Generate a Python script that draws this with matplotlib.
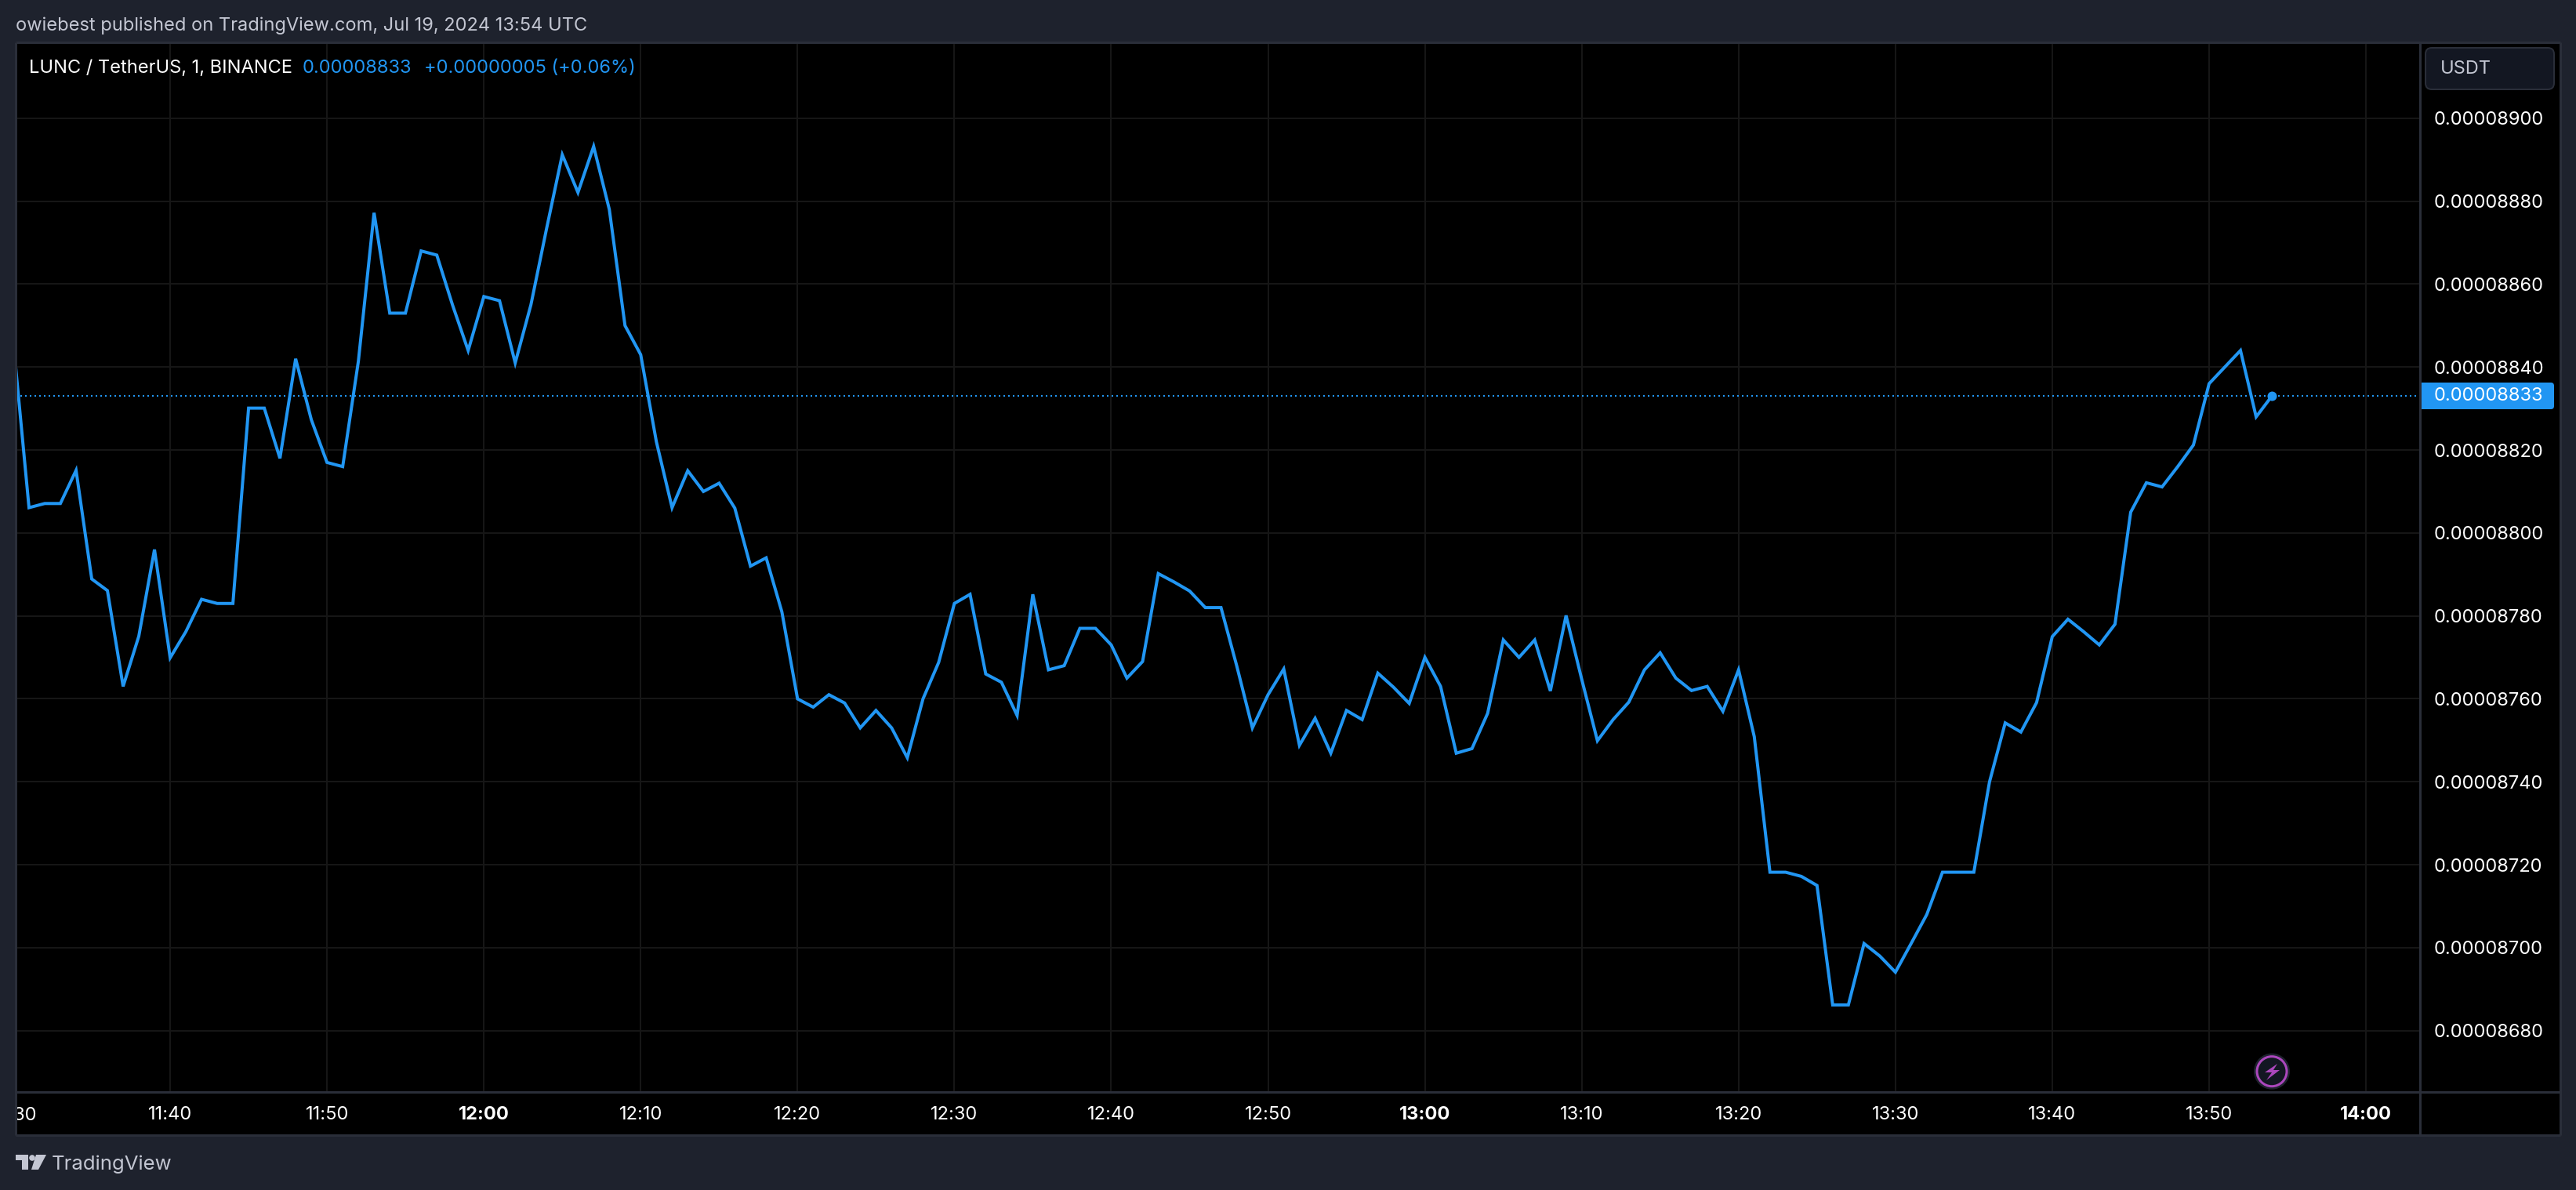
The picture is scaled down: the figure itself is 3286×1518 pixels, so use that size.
import numpy as np
import matplotlib
matplotlib.use('Agg')
import matplotlib.pyplot as plt
from matplotlib.patches import Rectangle, FancyBboxPatch, Circle, Polygon

W, H = 3286, 1518
DPI = 100
PX = 72.0 / DPI   # one pixel in points

# minutes after midnight, one close per minute from 11:30 to 13:54
minutes = np.arange(690, 835)

# closes in units of 0.00000001 USDT
closes = [
    8846.0, 8806.1, 8807.1, 8807.1, 8815.1, 8788.9, 8786.1, 8763.0, 8775.1, 8796.0,
    8769.9, 8776.2, 8784.0, 8783.0, 8783.0, 8830.1, 8830.1, 8818.0, 8842.0, 8827.3,
    8817.0, 8816.0, 8841.4, 8877.2, 8853.0, 8853.0, 8868.0, 8867.0, 8855.0, 8844.0,
    8857.0, 8856.0, 8841.0, 8855.0, 8873.4, 8891.2, 8882.1, 8893.2, 8878.0, 8850.0,
    8843.0, 8822.0, 8806.1, 8815.0, 8810.0, 8812.0, 8806.0, 8792.0, 8794.0, 8781.0,
    8760.0, 8758.0, 8761.0, 8759.0, 8753.0, 8757.2, 8753.0, 8745.8, 8760.0, 8768.8,
    8783.0, 8785.2, 8766.0, 8764.0, 8756.0, 8785.2, 8767.0, 8768.0, 8777.0, 8777.0,
    8773.0, 8765.0, 8769.0, 8790.2, 8788.2, 8786.0, 8782.0, 8782.0, 8768.0, 8753.0,
    8761.0, 8767.2, 8748.8, 8755.3, 8746.9, 8757.2, 8755.0, 8766.2, 8762.8, 8758.9,
    8770.0, 8763.0, 8746.9, 8748.0, 8756.5, 8774.2, 8770.0, 8774.2, 8761.9, 8780.1,
    8764.7, 8749.9, 8755.0, 8759.2, 8767.0, 8771.1, 8765.0, 8762.0, 8763.0, 8757.0,
    8767.0, 8750.9, 8718.2, 8718.2, 8717.2, 8715.0, 8686.2, 8686.2, 8701.0, 8698.0,
    8694.1, 8701.0, 8708.0, 8718.2, 8718.2, 8718.2, 8740.0, 8754.2, 8752.0, 8759.1,
    8775.0, 8779.2, 8776.2, 8773.0, 8778.0, 8805.0, 8812.1, 8811.1, 8816.0, 8821.2,
    8836.0, 8840.0, 8844.0, 8828.0, 8833.0,
]

price_ticks = [8680, 8700, 8720, 8740, 8760, 8780, 8800, 8820, 8840, 8860, 8880, 8900]
time_ticks = [700, 710, 720, 730, 740, 750, 760, 770, 780, 790, 800, 810, 820, 830, 840]
time_labels = ['11:40', '11:50', '12:00', '12:10', '12:20', '12:30', '12:40', '12:50',
               '13:00', '13:10', '13:20', '13:30', '13:40', '13:50', '14:00']
bold_labels = ['12:00', '13:00', '14:00']

header = 'owiebest published on TradingView.com, Jul 19, 2024 13:54 UTC'
symbol = 'LUNC / TetherUS, 1, BINANCE'
last_text = '0.00008833'
change_text = '+0.00000005 (+0.06%)'

BG = '#1e222d'
BORDER = '#2a2e39'
GRID = '#161616'
BLUE = '#2196f3'
MUTED = '#c3c6d2'

plt.rcParams['font.family'] = ['Inter', 'DejaVu Sans']

fig = plt.figure(figsize=(W / DPI, H / DPI), dpi=DPI, facecolor=BG)

# pane edges in pixels
left, right, top, bottom = 20, 3087, 54, 1393
outer_right, outer_bottom = 3266, 1448


def pixel_axes(z):
    a = fig.add_axes([0, 0, 1, 1], zorder=z)
    a.set_xlim(0, W)
    a.set_ylim(H, 0)
    a.axis('off')
    return a


back = pixel_axes(0)
back.add_patch(Rectangle((left, top), outer_right - left, outer_bottom - top, fc='black', ec='none'))

# price chart
ax = fig.add_axes([left / W, 1 - bottom / H, (right - left) / W, (bottom - top) / H], zorder=1)
ax.set_facecolor('black')
x_per_px = 1 / 20.007
ax.set_xlim(690 + (left - 17) * x_per_px, 690 + (right - 17) * x_per_px)
ax.set_ylim(8665.2e-8, 8918.3e-8)

prices = np.array(closes) * 1e-8
ax.grid(True, color=GRID, linewidth=2 * PX)
ax.set_axisbelow(True)
ax.axhline(prices[-1], color=BLUE, linewidth=2 * PX, linestyle=(0, (1, 2)), zorder=2)
ax.plot(minutes, prices, color=BLUE, linewidth=4 * PX, solid_joinstyle='miter', zorder=3)
ax.plot(minutes[-1], prices[-1], 'o', color=BLUE, markersize=12 * PX, markeredgewidth=0, zorder=4)

for s in ax.spines.values():
    s.set_visible(False)

ax.set_xticks(time_ticks)
ax.set_xticklabels(time_labels)
for t in ax.get_xticklabels():
    t.set_color('white')
    t.set_fontsize(17)
    if t.get_text() in bold_labels:
        t.set_fontweight('bold')
ax.tick_params(axis='x', length=0, pad=13)

ax.yaxis.tick_right()
ax.set_yticks(np.array(price_ticks) * 1e-8)
ax.set_yticklabels(['0.0000%d' % p for p in price_ticks])
ax.tick_params(axis='y', length=0, pad=13, labelsize=17, labelcolor='white')

# everything else is drawn in pixel coordinates
top_ax = pixel_axes(2)

for xs, ys in [((left, outer_right), (top, top)), ((left, outer_right), (outer_bottom, outer_bottom)),
               ((left, left), (top, outer_bottom)), ((outer_right, outer_right), (top, outer_bottom)),
               ((right, right), (top, outer_bottom)), ((left, outer_right), (bottom, bottom))]:
    top_ax.plot(xs, ys, color=BORDER, linewidth=3 * PX, solid_capstyle='butt')

# first time label, cut off by the pane
first = top_ax.text(20, 1423, '11:30', color='white', fontsize=17, ha='center', va='center')
first.set_clip_path(Rectangle((left + 2, bottom), 300, 50, transform=top_ax.transData))
first.set_clip_on(True)

top_ax.text(20, 33, header, color=MUTED, fontsize=17, ha='left', va='center')
top_ax.text(37, 87, symbol, color='white', fontsize=17, ha='left', va='center')
top_ax.text(386, 87, last_text, color=BLUE, fontsize=17, ha='left', va='center')
top_ax.text(541, 87, change_text, color=BLUE, fontsize=17, ha='left', va='center')

# unit button
top_ax.add_patch(FancyBboxPatch((3094, 61), 164, 53, boxstyle='round,pad=0,rounding_size=8',
                                fc='#131722', ec=BORDER, lw=2 * PX))
top_ax.text(3113, 88, 'USDT', color=MUTED, fontsize=17, ha='left', va='center')

# last price tag
top_ax.add_patch(FancyBboxPatch((3089, 490), 167, 30, boxstyle='round,pad=2,rounding_size=4',
                                fc=BLUE, ec='none'))
top_ax.add_patch(Rectangle((3086, 488), 10, 34, fc=BLUE, ec='none'))
top_ax.text(3105, 505, last_text, color='white', fontsize=17, ha='left', va='center')

# lightning badge
top_ax.add_patch(Circle((2898, 1366.7), 21, fc='#131722', ec='#1e222d', lw=4 * PX))
top_ax.add_patch(Circle((2898, 1366.7), 19, fc='#131722', ec='#ab47bc', lw=3 * PX))
bolt = [(2905, 1357), (2889, 1368), (2898, 1368), (2891, 1378), (2908, 1365), (2900, 1365)]
top_ax.add_patch(Polygon(bolt, closed=True, fc='#ab47bc', ec='none'))

# TradingView logo
top_ax.add_patch(Polygon([(20, 1473), (36, 1473), (36, 1492), (28, 1492), (28, 1480), (20, 1480)],
                         closed=True, fc=MUTED, ec='none'))
top_ax.add_patch(Circle((41, 1477), 3.8, fc=MUTED, ec='none'))
top_ax.add_patch(Polygon([(46, 1473), (59, 1473), (49, 1492), (40, 1492)], closed=True, fc=MUTED, ec='none'))
top_ax.text(66, 1485, 'TradingView', color=MUTED, fontsize=18.5, ha='left', va='center')

fig.savefig('out.png', dpi=DPI, facecolor=BG)
